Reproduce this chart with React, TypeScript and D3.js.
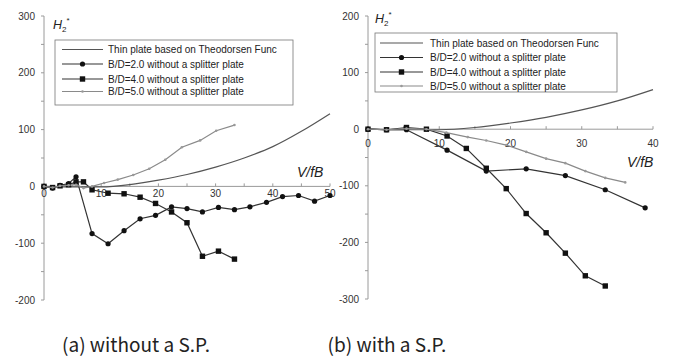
import React from "react";
import * as d3 from "d3";

// ---------- DATA ----------
const theoX = [0, 5, 10, 15, 20, 25, 30, 35, 40, 45, 50];
const theoY = [0, -1, -1, 3, 11, 21, 34, 50, 70, 97, 128];

// (a) without a S.P.
const aBD2x = [0, 1.5, 2.8, 4.3, 5.6, 8.4, 11.2, 14, 16.8, 19.5, 22.3, 25, 27.7, 30.5, 33.3, 36, 38.9, 41.7, 44.5, 47.3, 50];
const aBD2y = [0, -3, 2, 5, 17, -83, -101, -78, -57, -51, -36, -39, -45, -37, -41, -36, -28, -18, -16, -26, -16];
const aBD4x = [0, 1.5, 2.8, 4.3, 5.6, 6.9, 8.4, 11.2, 14, 16.8, 19.5, 22.3, 25, 27.7, 30.5, 33.3];
const aBD4y = [0, -2, 1, 3, 8, 8, -6, -12, -13, -19, -30, -45, -64, -123, -114, -128];
const aBD5x = [0, 1.5, 2.8, 4.3, 5.6, 6.9, 8.4, 10.5, 12.9, 15.6, 18.4, 21.2, 24.1, 27.3, 30.1, 33.3];
const aBD5y = [0, -2, 1, 2, 3, -3, 0, 6, 12, 20, 31, 47, 69, 81, 98, 108];

// (b) with a S.P.
const bBD2x = [0, 2.6, 5.4, 11.1, 16.6, 22.2, 27.7, 33.3, 38.9];
const bBD2y = [0, -1, -1, -37, -74, -70, -82, -107, -139];
const bBD4x = [0, 2.6, 5.4, 8.2, 11.1, 13.8, 16.6, 19.4, 22.2, 25, 27.7, 30.5, 33.3];
const bBD4y = [0, -1, 3, 0, -12, -34, -69, -105, -149, -183, -219, -259, -277];
const bBD5x = [0, 2.6, 5.4, 8.2, 11, 14, 16.6, 19.4, 22.2, 25, 27.7, 30.5, 33.3, 36.1];
const bBD5y = [0, -1, 1, 0, -6, -14, -20, -28, -40, -52, -60, -74, -86, -94];

const legendLabels = [
  "Thin plate based on Theodorsen Func",
  "B/D=2.0 without a splitter plate",
  "B/D=4.0 without a splitter plate",
  "B/D=5.0 without a splitter plate",
];

const aXTicks = [0, 10, 20, 30, 40, 50];
const aYTicks = [-200, -100, 0, 100, 200, 300];
const bXTicks = [0, 10, 20, 30, 40];
const bYTicks = [-300, -200, -100, 0, 100, 200];

const captions = ["(a) without a S.P.", "(b) with a S.P."];

// ---------- COMPONENTS ----------
const FONT = "'Liberation Sans', Arial, sans-serif";
const AXIS = "#9a9a9a";

type Pt = [number, number];
const zip = (xs: number[], ys: number[]): Pt[] => xs.map((x, i) => [x, ys[i]]);

function Marker({ kind, x, y }: { kind: string; x: number; y: number }) {
  if (kind === "circle") return <circle cx={x} cy={y} r={2.6} fill="#111" />;
  if (kind === "square") return <rect x={x - 2.7} y={y - 2.7} width={5.4} height={5.4} fill="#111" />;
  if (kind === "small") return <circle cx={x} cy={y} r={1.3} fill="#999" />;
  return null;
}

function HLabel({ x, y }: { x: number; y: number }) {
  return (
    <text x={x} y={y} fontFamily={FONT} fontSize={12.5} fontStyle="italic" fill="#222">
      H
      <tspan fontSize={8} dy={3} fontStyle="normal">2</tspan>
      <tspan fontSize={8} dy={-9} fontStyle="normal">*</tspan>
    </text>
  );
}

function Panel(props: {
  xDomain: [number, number];
  yDomain: [number, number];
  xRange: [number, number];
  yRange: [number, number];
  xTicks: number[];
  yTicks: number[];
  xLabelOffset: number;
  theoMax: number;
  series: { pts: Pt[]; kind: string; color: string; width: number }[];
  legend: { x: number; y: number; w: number; h: number; rows: number[]; lx1: number; lx2: number; tx: number };
  hPos: [number, number];
  vPos: [number, number];
}) {
  const x = d3.scaleLinear().domain(props.xDomain).range(props.xRange);
  const y = d3.scaleLinear().domain(props.yDomain).range(props.yRange);
  const line = d3
    .line<Pt>()
    .x((d) => x(d[0]))
    .y((d) => y(d[1]));
  const theoPts = zip(theoX, theoY).filter((d) => d[0] <= props.theoMax);
  const theoLine = d3
    .line<Pt>()
    .x((d) => x(d[0]))
    .y((d) => y(d[1]))
    .curve(d3.curveMonotoneX);
  const minorX = d3.range(props.xDomain[0], props.xDomain[1] + 0.01, 5);
  const minorY = d3.range(props.yDomain[0], props.yDomain[1] + 0.01, 50);
  const x0 = x(0);
  const y0 = y(0);
  const L = props.legend;
  const legendKinds = ["none", "circle", "square", "small"];
  const legendColors = ["#555", "#333", "#333", "#8a8a8a"];
  return (
    <g>
      {/* axes */}
      <line x1={x0} x2={x0} y1={props.yRange[0]} y2={props.yRange[1]} stroke={AXIS} strokeWidth={1} />
      <line x1={props.xRange[0]} x2={props.xRange[1]} y1={y0} y2={y0} stroke={AXIS} strokeWidth={1} />
      {minorY.map((v) => (
        <line key={"my" + v} x1={x0 - 3} x2={x0} y1={y(v)} y2={y(v)} stroke={AXIS} />
      ))}
      {minorX.map((v) => (
        <line key={"mx" + v} x1={x(v)} x2={x(v)} y1={y0} y2={y0 - 3} stroke={AXIS} />
      ))}
      {props.yTicks.map((v) => (
        <text key={"ty" + v} x={x0 - 9} y={y(v) + 3.5} textAnchor="end" fontFamily={FONT} fontSize={10} fill="#333">
          {v}
        </text>
      ))}
      {props.xTicks.map((v) => (
        <text key={"tx" + v} x={x(v)} y={y0 + props.xLabelOffset} textAnchor="middle" fontFamily={FONT} fontSize={10} fill="#333">
          {v}
        </text>
      ))}
      {/* theodorsen */}
      <path d={theoLine(theoPts) || ""} fill="none" stroke="#555" strokeWidth={1.2} />
      {props.series.map((s, i) => (
        <g key={"s" + i}>
          <path d={line(s.pts) || ""} fill="none" stroke={s.color} strokeWidth={s.width} />
          {s.pts.map((p, j) => (
            <Marker key={j} kind={s.kind} x={x(p[0])} y={y(p[1])} />
          ))}
        </g>
      ))}
      {/* legend */}
      <rect x={L.x} y={L.y} width={L.w} height={L.h} fill="white" stroke="#777" strokeWidth={0.8} />
      {legendLabels.map((t, i) => (
        <g key={"lg" + i}>
          <line x1={L.lx1} x2={L.lx2} y1={L.rows[i]} y2={L.rows[i]} stroke={legendColors[i]} strokeWidth={1.2} />
          <Marker kind={legendKinds[i]} x={(L.lx1 + L.lx2) / 2} y={L.rows[i]} />
          <text x={L.tx} y={L.rows[i] + 3.5} fontFamily={FONT} fontSize={10} fill="#222">
            {t}
          </text>
        </g>
      ))}
      <HLabel x={props.hPos[0]} y={props.hPos[1]} />
      <text x={props.vPos[0]} y={props.vPos[1]} fontFamily={FONT} fontSize={14} fontStyle="italic" fill="#222">
        V/fB
      </text>
    </g>
  );
}

export default function App() {
  return (
    <svg width={674} height={360} style={{ position: "absolute", left: 0, top: 0, background: "white" }}>
      <rect x={0} y={0} width={674} height={360} fill="white" />
      <Panel
        xDomain={[0, 50]}
        yDomain={[-200, 300]}
        xRange={[44, 330]}
        yRange={[300, 16]}
        xTicks={aXTicks}
        yTicks={aYTicks}
        xLabelOffset={11}
        theoMax={50}
        series={[
          { pts: zip(aBD2x, aBD2y), kind: "circle", color: "#333", width: 1.2 },
          { pts: zip(aBD4x, aBD4y), kind: "square", color: "#333", width: 1.2 },
          { pts: zip(aBD5x, aBD5y), kind: "small", color: "#8a8a8a", width: 1.2 },
        ]}
        legend={{ x: 55, y: 40, w: 238, h: 65, rows: [49.5, 64, 79, 91.5], lx1: 62, lx2: 103, tx: 108 }}
        hPos={[53, 29]}
        vPos={[297, 177]}
      />
      <Panel
        xDomain={[0, 40]}
        yDomain={[-300, 200]}
        xRange={[368, 653]}
        yRange={[299, 16]}
        xTicks={bXTicks}
        yTicks={bYTicks}
        xLabelOffset={18}
        theoMax={40}
        series={[
          { pts: zip(bBD2x, bBD2y), kind: "circle", color: "#333", width: 1.2 },
          { pts: zip(bBD4x, bBD4y), kind: "square", color: "#333", width: 1.2 },
          { pts: zip(bBD5x, bBD5y), kind: "small", color: "#8a8a8a", width: 1.2 },
        ]}
        legend={{ x: 375, y: 33, w: 242, h: 59, rows: [43, 57.5, 72, 86], lx1: 380, lx2: 423, tx: 430 }}
        hPos={[375, 23]}
        vPos={[627, 167]}
      />
      <text x={136} y={352} textAnchor="middle" fontFamily="'Noto Sans CJK KR', 'Noto Sans', sans-serif" fontSize={19} fill="#222">
        {captions[0]}
      </text>
      <text x={387} y={352} textAnchor="middle" fontFamily="'Noto Sans CJK KR', 'Noto Sans', sans-serif" fontSize={19} fill="#222">
        {captions[1]}
      </text>
    </svg>
  );
}
